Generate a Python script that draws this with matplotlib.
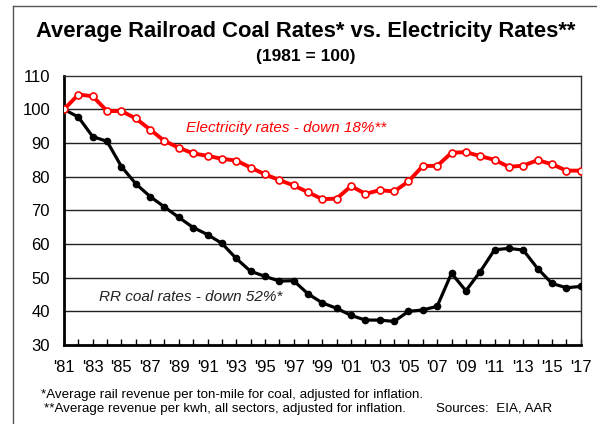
import numpy as np
import matplotlib.pyplot as plt
from matplotlib.lines import Line2D

plt.rcParams['font.family'] = ['Liberation Sans', 'DejaVu Sans']

# index values, 1981 = 100
years = list(range(1981, 2018))
electricity = [100.0, 104.4, 103.9, 99.5, 99.5, 97.3, 94.0, 90.6, 88.6, 86.9,
               86.2, 85.3, 84.8, 82.7, 80.7, 79.0, 77.4, 75.4, 73.3, 73.5,
               77.2, 74.9, 76.0, 75.6, 78.6, 83.2, 83.2, 87.1, 87.3, 86.1,
               85.0, 82.9, 83.3, 84.9, 83.7, 81.8, 81.8]
coal = [100.0, 97.7, 91.9, 90.5, 83.0, 77.9, 74.1, 71.0, 67.9, 64.9,
        62.8, 60.2, 55.7, 51.9, 50.4, 49.0, 49.1, 45.2, 42.5, 40.9,
        38.8, 37.4, 37.4, 37.0, 40.0, 40.4, 41.5, 51.3, 46.1, 51.8,
        58.3, 58.7, 58.2, 52.7, 48.3, 47.0, 47.4]
tick_years = list(range(1981, 2018, 2))
tick_labels = ["'%02d" % (y % 100) for y in tick_years]

fig = plt.figure(figsize=(5.97, 4.24), dpi=100)
ax = fig.add_axes([0.1072, 0.1863, 0.8655, 0.6352])

for v in range(40, 110, 10):
    ax.axhline(v, color='#222222', lw=1.0, zorder=1)

ax.plot(years, coal, color='black', lw=2.3, marker='o', ms=4.5,
        mfc='black', mec='black', zorder=3)
ax.plot(years, electricity, color='#ff0000', lw=2.8, marker='o', ms=5,
        mfc='white', mec='#ff0000', mew=1.2, zorder=4)

ax.set_xlim(1981, 2017)
ax.set_ylim(30, 110)
ax.set_yticks(range(30, 111, 10))
ax.tick_params(axis='y', length=0, pad=10, labelsize=12)
ax.set_xticks(tick_years)
ax.set_xticklabels(tick_labels)
ax.set_xticks(years, minor=True)
ax.tick_params(axis='x', which='both', direction='in', length=4,
               width=1, pad=11, labelsize=12)

for side in ['left', 'bottom']:
    ax.spines[side].set_linewidth(2)
for side in ['top', 'right']:
    ax.spines[side].set_linewidth(1)
    ax.spines[side].set_color('#333333')

ax.text(1996.5, 94.4, 'Electricity rates - down 18%**', color='#ff0000',
        style='italic', fontsize=11, ha='center', va='center')
ax.text(1989.8, 44.2, 'RR coal rates - down 52%*', color='#222222',
        style='italic', fontsize=11, ha='center', va='center')

fig.text(0.5126, 0.925, 'Average Railroad Coal Rates* vs. Electricity Rates**',
         fontsize=15.8, fontweight='bold', ha='center', va='center')
fig.text(0.5126, 0.867, '(1981 = 100)', fontsize=12.5, fontweight='bold',
         ha='center', va='center')

fig.text(0.069, 0.0684, '*Average rail revenue per ton-mile for coal, adjusted for inflation.',
         fontsize=9.6, ha='left', va='center')
fig.text(0.0735, 0.0354, '**Average revenue per kwh, all sectors, adjusted for inflation.' + ' ' * 8 + 'Sources:  EIA, AAR',
         fontsize=9.6, ha='left', va='center')

# frame on the left and top
fig.add_artist(Line2D([13 / 597, 13 / 597], [0, 1 - 6 / 424], color='#555555', lw=1))
fig.add_artist(Line2D([13 / 597, 1], [1 - 6 / 424, 1 - 6 / 424], color='#555555', lw=1))

fig.savefig('out.png', dpi=100)
